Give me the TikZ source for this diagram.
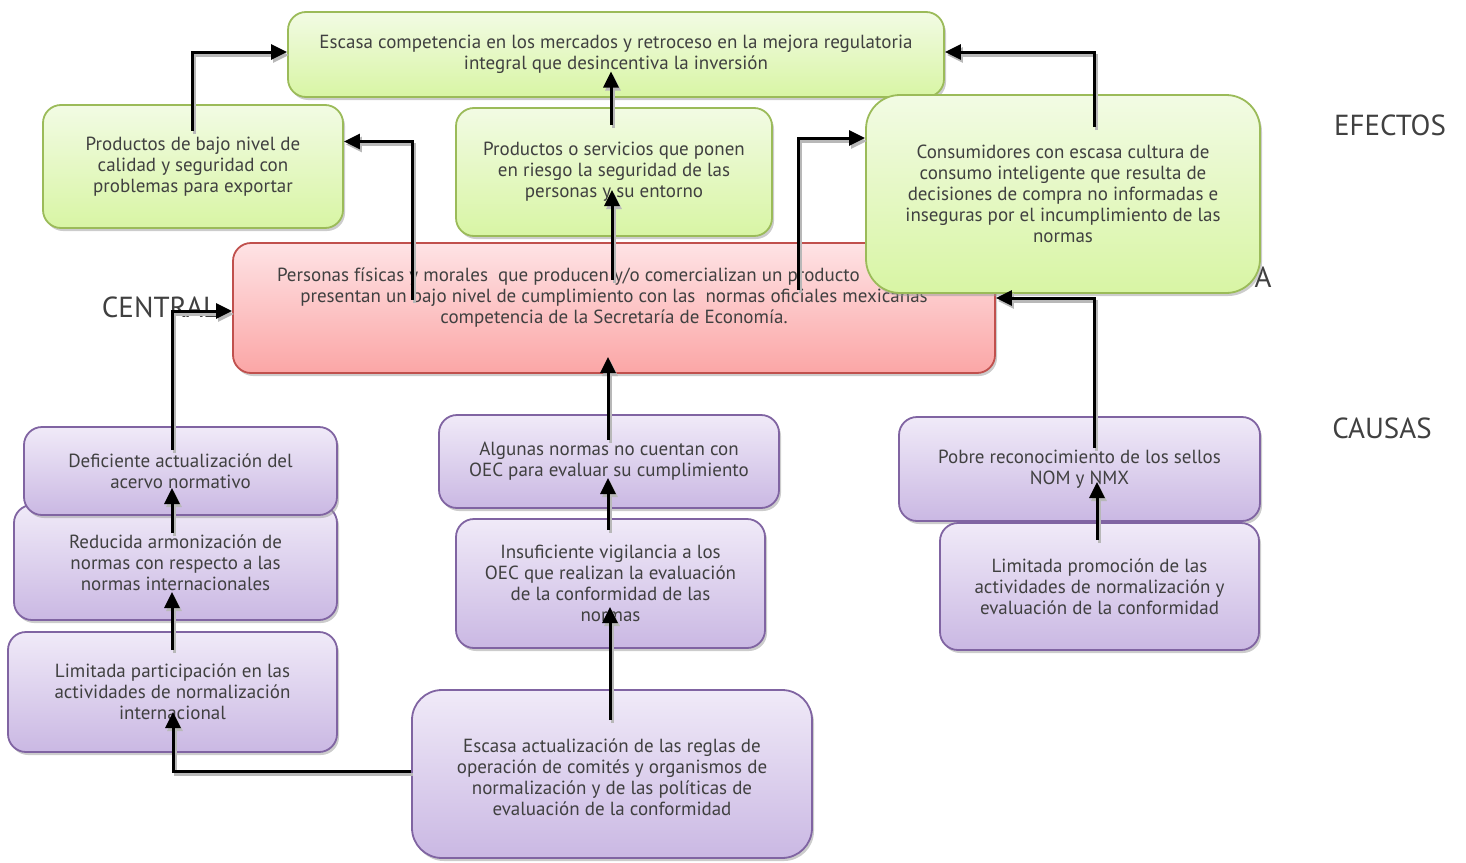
\documentclass[tikz,border=0pt]{standalone}
\usepackage{fontspec}
\setmainfont{PT Sans}
\usetikzlibrary{arrows.meta,shadows}
\definecolor{txt}{HTML}{404040}
\definecolor{gTop}{HTML}{F2FBE4}
\definecolor{gBot}{HTML}{D8F5A4}
\definecolor{gBrd}{HTML}{9BBB59}
\definecolor{rTop}{HTML}{FEE3E5}
\definecolor{rBot}{HTML}{FBA6A6}
\definecolor{rBrd}{HTML}{C0504D}
\definecolor{pTop}{HTML}{F0EAF8}
\definecolor{pBot}{HTML}{CAB8E3}
\definecolor{pBrd}{HTML}{8064A2}
\tikzset{
  basebox/.style={rounded corners=18pt, line width=1.8pt, align=center, text=txt,
    font=\fontsize{19}{21}\selectfont, inner sep=0pt,
    drop shadow={shadow xshift=2pt, shadow yshift=-3pt, fill=black!40, opacity=0.5}},
  greenbox/.style={basebox, draw=gBrd, top color=gTop, bottom color=gBot},
  redbox/.style={basebox, draw=rBrd, top color=rTop, bottom color=rBot},
  purplebox/.style={basebox, draw=pBrd, top color=pTop, bottom color=pBot},
  boxtext/.style={align=center, text=txt, font=\fontsize{19}{21}\selectfont, inner sep=0pt},
  sidelabel/.style={text=txt, font=\fontsize{29}{34}\selectfont, inner sep=0pt},
  arr/.style={draw=black, line width=3pt, -{Triangle[length=16pt,width=15pt]},
    preaction={draw=black!28, line width=3pt, transform canvas={shift={(2pt,-3pt)}}}}
}
\begin{document}
\begin{tikzpicture}[x=1pt,y=-1pt]
\useasboundingbox (0,0) rectangle (1466,862);
% side labels (behind boxes)
\node[sidelabel] (lcentral) at (160,307) {CENTRAL};
\node[sidelabel] (lA) at (1263,277) {A};
\node[sidelabel] (lefectos) at (1390,125) {EFECTOS};
\node[sidelabel] (lcausas) at (1382,428) {CAUSAS};
% effects
\node[greenbox, minimum width=656pt, minimum height=85pt] (top) at (616,54.5)
  {Escasa competencia en los mercados y retroceso en la mejora regulatoria\\integral que desincentiva la inversión};
\node[greenbox, minimum width=300pt, minimum height=123pt] (effL) at (193,166.5)
  {Productos de bajo nivel de\\calidad y seguridad con\\problemas para exportar};
\node[greenbox, minimum width=316pt, minimum height=128pt] (effM) at (614,172)
  {Productos o servicios que ponen\\en riesgo la seguridad de las\\personas y su entorno};
% central problem
\node[redbox, minimum width=762pt, minimum height=130pt] (prob) at (614,308) {};
\node[boxtext] (probtext) at (614,298)
  {\makebox[674pt][l]{Personas físicas y morales\ \ que producen y/o comercializan un producto}\\
  presentan un bajo nivel de cumplimiento con las\ \ normas oficiales mexicanas\\
  competencia de la Secretaría de Economía.};
\node[greenbox, rounded corners=34pt, minimum width=394pt, minimum height=198pt] (effR) at (1063,194)
  {Consumidores con escasa cultura de\\consumo inteligente que resulta de\\decisiones de compra no informadas e\\inseguras por el incumplimiento de las\\normas};
% causes
\node[purplebox, minimum width=323pt, minimum height=115pt] (c2) at (175.5,562.5)
  {Reducida armonización de\\normas con respecto a las\\normas internacionales};
\node[purplebox, minimum width=313pt, minimum height=88pt] (c1) at (180.5,471)
  {Deficiente actualización del\\acervo normativo};
\node[purplebox, minimum width=329pt, minimum height=120pt] (c3) at (172.5,692)
  {Limitada participación en las\\actividades de normalización\\internacional};
\node[purplebox, minimum width=340pt, minimum height=93pt] (c4) at (609,461.5)
  {Algunas normas no cuentan con\\OEC para evaluar su cumplimiento};
\node[purplebox, minimum width=309pt, minimum height=129pt] (c5) at (610.5,583.5)
  {Insuficiente vigilancia a los\\OEC que realizan la evaluación\\de la conformidad de las\\normas};
\node[purplebox, rounded corners=30pt, minimum width=400pt, minimum height=168pt] (c6) at (612,774) {};
\node[boxtext] (c6text) at (612,777)
  {Escasa actualización de las reglas de\\operación de comités y organismos de\\normalización y de las políticas de\\evaluación de la conformidad};
\node[purplebox, minimum width=361pt, minimum height=104pt] (c7) at (1079.5,469)
  {Pobre reconocimiento de los sellos\\NOM y NMX};
\node[purplebox, minimum width=319pt, minimum height=127pt] (c8) at (1099.5,586.5)
  {Limitada promoción de las\\actividades de normalización y\\evaluación de la conformidad};
% connectors
\draw[arr] ([xshift=-1pt,yshift=36pt]effL.center) |- ([yshift=2.5pt]top.west);
\draw[arr] ([xshift=-3pt,yshift=47pt]effM.center) -- ([xshift=-5pt,yshift=-17pt]top.center);
\draw[arr] ([xshift=31pt,yshift=67pt]effR.center) |- ([yshift=2.5pt]top.east);
\draw[arr] ([xshift=-202pt,yshift=8pt]prob.center) |- ([yshift=25pt]effL.east);
\draw[arr] ([xshift=-2pt,yshift=28pt]prob.center) -- ([xshift=-2pt,yshift=-18pt]effM.center);
\draw[arr] ([xshift=184pt,yshift=18pt]prob.center) |- ([yshift=56pt]effR.west);
\draw[arr] ([xshift=-8.5pt,yshift=21pt]c1.center) |- ([yshift=-3pt]prob.west);
\draw[arr] ([xshift=-3.5pt,yshift=29.5pt]c2.center) -- ([xshift=-8.5pt,yshift=-17pt]c1.center);
\draw[arr] ([xshift=-0.5pt,yshift=42pt]c3.center) -- ([xshift=-3.5pt,yshift=-29.5pt]c2.center);
\draw[arr] ([yshift=3pt]c6.west) -| ([xshift=0.5pt,yshift=-20pt]c3.center);
\draw[arr] ([xshift=-2pt,yshift=54pt]c6.center) -- ([xshift=-0.5pt,yshift=-23.5pt]c5.center);
\draw[arr] ([xshift=-2.5pt,yshift=53.5pt]c5.center) -- ([xshift=-1pt,yshift=-16.5pt]c4.center);
\draw[arr] ([xshift=-1pt,yshift=21.5pt]c4.center) -- ([xshift=-6pt,yshift=-49pt]prob.center);
\draw[arr] ([xshift=-2.5pt,yshift=46.5pt]c8.center) -- ([xshift=17.5pt,yshift=-13pt]c7.center);
\draw[arr] ([xshift=14.5pt,yshift=21pt]c7.center) |- ([yshift=10pt]prob.east);
\end{tikzpicture}
\end{document}
